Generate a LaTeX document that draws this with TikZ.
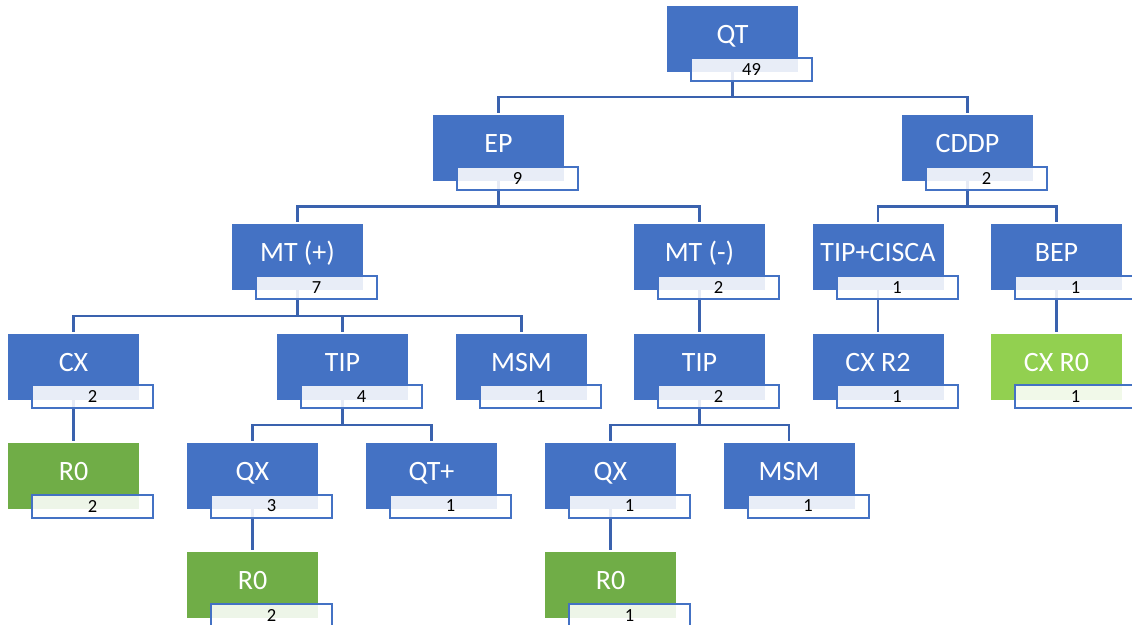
\documentclass[tikz,border=0pt]{standalone}
\usepackage{fontspec}
\setmainfont{Carlito}
\usetikzlibrary{backgrounds}
\definecolor{oblue}{HTML}{4472C4}
\definecolor{lblue}{HTML}{3A62AE}
\definecolor{ogreen}{HTML}{70AD47}
\definecolor{lgreen}{HTML}{92D050}
\tikzset{
  mainbox/.style={draw=none, fill=#1, minimum width=131pt, minimum height=66pt,
    anchor=north west, inner sep=0pt, outer sep=0pt},
  numbox/.style={draw=oblue, line width=2pt, fill=white, fill opacity=0.88,
    text opacity=1, text=black, font=\fontsize{18.5}{20}\selectfont,
    minimum width=121pt, minimum height=23pt, anchor=north west,
    inner sep=0pt, outer sep=0pt},
  maintext/.style={text=white, font=\fontsize{28}{30}\selectfont, anchor=base, inner sep=0pt},
  link/.style={draw=lblue, line width=2.2pt},
}
\newcommand\orgunit[6]{%
  \node[mainbox=#6] (#1) at (#2,#3) {};
  \node[maintext] (#1t) at ([yshift=-37.5pt]#1.north) {#4};
  \node[numbox] (#1n) at ([xshift=24pt,yshift=-51.7pt]#1.north west) {#5};
}
\newcommand\tree[2]{\draw[link] (#1.south) -- ++(0,25.3) -| ([yshift=2pt]#2.north);}
\newcommand\chain[2]{\draw[link] (#1.south) -- ([yshift=2pt]#2.north);}
\begin{document}
\begin{tikzpicture}[x=1pt,y=-1pt]
\useasboundingbox (0,0) rectangle (1132,624);
% level 1
\orgunit{QT}{667}{6}{QT}{49}{oblue}
% level 2
\orgunit{EP}{433}{115.2}{EP}{9}{oblue}
\orgunit{CDDP}{902}{115.2}{CDDP}{2}{oblue}
% level 3
\orgunit{MTp}{232}{224.4}{MT (+)}{7}{oblue}
\orgunit{MTm}{634}{224.4}{MT (-)}{2}{oblue}
\orgunit{TIPC}{812.5}{224.4}{TIP+CISCA}{1}{oblue}
\orgunit{BEP}{991}{224.4}{BEP}{1}{oblue}
% level 4
\orgunit{CX}{8}{333.6}{CX}{2}{oblue}
\orgunit{TIPa}{277}{333.6}{TIP}{4}{oblue}
\orgunit{MSMa}{456}{333.6}{MSM}{1}{oblue}
\orgunit{TIPb}{634}{333.6}{TIP}{2}{oblue}
\orgunit{CXRtwo}{812.5}{333.6}{CX R2}{1}{oblue}
\orgunit{CXRzero}{991}{333.6}{CX R0}{1}{lgreen}
% level 5
\orgunit{ROa}{8}{442.8}{R0}{2}{ogreen}
\orgunit{QXa}{187}{442.8}{QX}{3}{oblue}
\orgunit{QTplus}{366}{442.8}{QT+}{1}{oblue}
\orgunit{QXb}{545}{442.8}{QX}{1}{oblue}
\orgunit{MSMb}{723.5}{442.8}{MSM}{1}{oblue}
% level 6
\orgunit{ROb}{187}{552}{R0}{2}{ogreen}
\orgunit{ROc}{545}{552}{R0}{1}{ogreen}
\begin{pgfonlayer}{background}
\tree{QT}{EP}
\tree{QT}{CDDP}
\tree{EP}{MTp}
\tree{EP}{MTm}
\tree{CDDP}{TIPC}
\tree{CDDP}{BEP}
\tree{MTp}{CX}
\tree{MTp}{TIPa}
\tree{MTp}{MSMa}
\chain{MTm}{TIPb}
\chain{TIPC}{CXRtwo}
\chain{BEP}{CXRzero}
\chain{CX}{ROa}
\tree{TIPa}{QXa}
\tree{TIPa}{QTplus}
\tree{TIPb}{QXb}
\tree{TIPb}{MSMb}
\chain{QXa}{ROb}
\chain{QXb}{ROc}
\end{pgfonlayer}
\end{tikzpicture}
\end{document}
